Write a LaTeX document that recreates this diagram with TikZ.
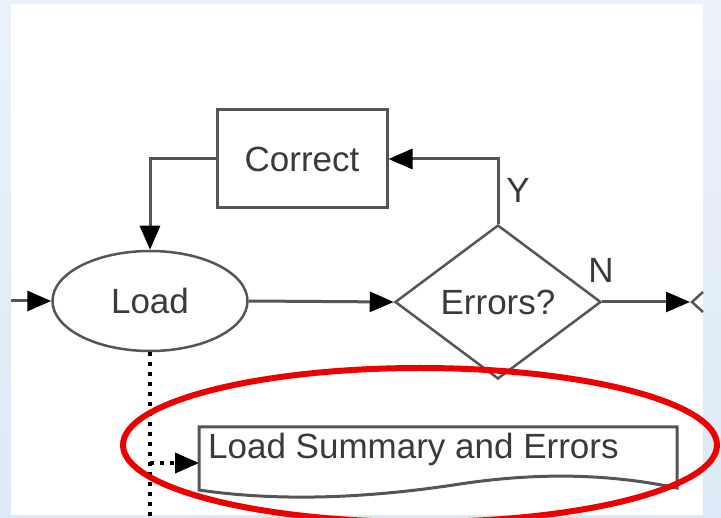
\documentclass[tikz,border=0pt]{standalone}
\usepackage{fontspec}
\setmainfont{Liberation Sans}
\usetikzlibrary{shapes.geometric,arrows.meta}

\definecolor{linegrey}{HTML}{555555}
\definecolor{textgrey}{HTML}{3A3A3A}
\definecolor{panelblue}{HTML}{DDE9F6}
\definecolor{markred}{HTML}{EE0000}

\tikzset{
	every node/.style={font=\fontsize{35}{42}\selectfont, text=textgrey},
	tip/.style={-{Triangle[length=24pt,width=20pt,color=black]}},
	flow/.style={draw=linegrey, line width=3pt},
	trace/.style={draw=black, line width=4pt, dash pattern=on 4pt off 6pt},
	box/.style={draw=linegrey, line width=3pt, minimum width=170pt, minimum height=98pt},
	oval/.style={ellipse, draw=linegrey, line width=2.5pt, minimum width=195pt, minimum height=100pt, inner sep=0pt},
	test/.style={diamond, draw=linegrey, line width=2.5pt, minimum width=206pt, minimum height=154pt, inner sep=0pt}
}

\begin{document}
\begin{tikzpicture}
	\pgfsetxvec{\pgfpoint{1pt}{0pt}}
	\pgfsetyvec{\pgfpoint{0pt}{-1pt}}

	% background and panel
	\fill[top color=panelblue!60, bottom color=panelblue] (0,0) rectangle (721,518);
	\useasboundingbox (0,0) rectangle (721,518);
	\fill[white] (11,4) rectangle (703,515);

	\node[box] at (302,159) (correct) {Correct};
	\node[oval] at (150,301) (load) {Load};
	\node[test] at (498,302) (errors) {Errors?};
	\node[anchor=west, inner sep=0pt] at (208,449) (summary) {Load Summary and Errors};
	\node[inner sep=0pt] at (518,190) (yes) {Y};
	\node[inner sep=0pt] at (601,270) (no) {N};

	\coordinate (in) at (11,301);
	\coordinate (next) at (690,302);
	\coordinate (bottom) at (150,518);
	\coordinate (branch) at (150,463);
	\coordinate (docin) at (199,463);

	% document shape
	\draw[linegrey, line width=3pt] (199,427) -- (677,427) -- (677,488)
	.. controls (610,474) and (540,472) .. (460,484)
	.. controls (370,498) and (280,502) .. (199,490) -- cycle;

	% next step, cut off at the panel edge
	\draw[linegrey, line width=2.5pt] (703,292) -- (692,302) -- (703,312);

	\path[flow] (errors.north)
	edge[tip, to path={|- (\tikztotarget)}] (correct.east)
	(correct.west)
	edge[tip, to path={-| (\tikztotarget)}] (load.north)
	(load.east)
	edge[tip] (errors.west)
	(errors.east)
	edge[tip] (next)
	(in)
	edge[tip] (load.west);
	\path[trace] (load.south)
	edge (bottom)
	(branch)
	edge[tip] (docin);

	% highlight
	\draw[markred, line width=6pt] (420,445) ellipse (297pt and 77pt);

\end{tikzpicture}
\end{document}
